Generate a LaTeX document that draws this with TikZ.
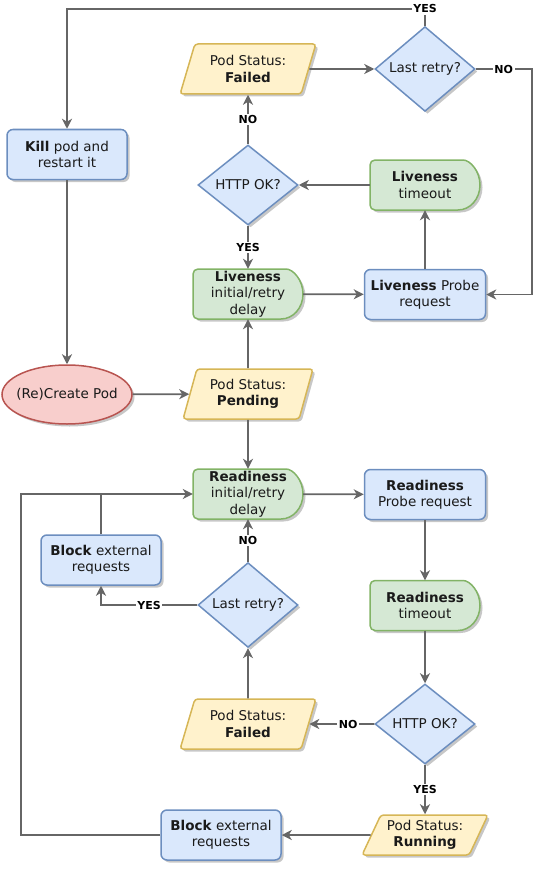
\documentclass[tikz,border=0pt]{standalone}
\usepackage{fontspec}
\setmainfont{DejaVu Sans}
\usetikzlibrary{shapes.geometric,arrows.meta,shadows,calc}
\definecolor{bfill}{HTML}{DAE8FC}
\definecolor{bstroke}{HTML}{6C8EBF}
\definecolor{gfill}{HTML}{D5E8D4}
\definecolor{gstroke}{HTML}{82B366}
\definecolor{yfill}{HTML}{FFF2CC}
\definecolor{ystroke}{HTML}{D6B656}
\definecolor{rfill}{HTML}{F8CECC}
\definecolor{rstroke}{HTML}{B85450}
\definecolor{ecol}{HTML}{666666}
\definecolor{txt}{HTML}{1A1A1A}
% delay shape: flat left side with rounded corners, half-round right side
\newcommand{\mydelay}[3]{%
  \path[delayshape] ($(#2)+(33,-25)$) arc[start angle=90, end angle=-90, x radius=22pt, y radius=25pt]
    [rounded corners=5pt] -- ($(#2)+(-55,25)$) -- ($(#2)+(-55,-25)$) -- cycle;
  \node[delaytext] (#1) at (#2) {#3};
}
\begin{document}
\begin{tikzpicture}[x=1pt,y=-1pt,
 shad/.style={drop shadow={shadow xshift=2.5pt,shadow yshift=-2.5pt,opacity=0.22,fill=black}},
 base/.style={font=\fontsize{13.5}{16.3}\selectfont, text=txt, align=center, line width=1.5pt, inner sep=2pt, shad},
 proc/.style={base, rectangle, rounded corners=6pt, draw=bstroke, fill=bfill, minimum width=120pt, minimum height=50pt},
 dec/.style={base, diamond, draw=bstroke, fill=bfill, minimum width=100pt, minimum height=80pt, inner sep=0pt},
 delayshape/.style={draw=gstroke, fill=gfill, line width=1.5pt, shad},
 delaytext/.style={font=\fontsize{13.5}{16.3}\selectfont, text=txt, align=center, rectangle, inner sep=1pt,
   minimum width=110pt, minimum height=50pt},
 status/.style={base, trapezium, trapezium left angle=72, trapezium right angle=108, trapezium stretches=true,
   draw=ystroke, fill=yfill, minimum width=130pt, minimum height=50pt, rounded corners=3pt},
 startnode/.style={base, ellipse, draw=rstroke, fill=rfill, minimum width=130pt, minimum height=59pt, inner xsep=-8pt},
 flow/.style={draw=ecol, line width=1.7pt, -{Stealth[length=10pt,width=10pt,inset=3pt]}},
 plain/.style={draw=ecol, line width=1.7pt},
 lbl/.style={fill=white, font=\fontsize{11}{13}\selectfont\bfseries, text=black, inner sep=1.5pt}
]
\useasboundingbox (0,0) rectangle (551,872);

% nodes
\node[proc] (kill) at (67,154.5) {\textbf{Kill} pod and\\restart it};
\node[startnode] (create) at (67,394.5) {(Re)Create Pod};
\node[status] (pending) at (248,394) {Pod Status:\\\textbf{Pending}};
\mydelay{ldelay}{248,294}{\textbf{Liveness}\\initial/retry\\delay}
\node[proc, minimum width=121pt] (lprobe) at (425,294.5) {\textbf{Liveness} Probe\\request};
\mydelay{ltimeout}{425,185}{\textbf{Liveness}\\timeout}
\node[dec] (lhttp) at (248,185) {HTTP OK?};
\node[status, minimum width=136pt, trapezium left angle=70, trapezium right angle=110] (lfailed) at (248,69) {Pod Status:\\\textbf{Failed}};
\node[dec] (lretry) at (425,69) {Last retry?};

\mydelay{rdelay}{248,494}{\textbf{Readiness}\\initial/retry\\delay}
\node[proc, minimum width=121pt] (rprobe) at (425,494.5) {\textbf{Readiness}\\Probe request};
\mydelay{rtimeout}{425,605.5}{\textbf{Readiness}\\timeout}
\node[dec] (rhttp) at (425,724) {HTTP OK?};
\node[status, minimum width=136pt, trapezium left angle=70, trapezium right angle=110] (rfailed) at (248,724) {Pod Status:\\\textbf{Failed}};
\node[dec] (rretry) at (248,605) {Last retry?};
\node[proc] (block1) at (101,560) {\textbf{Block} external\\requests};
\node[status, minimum width=126pt, minimum height=40pt, trapezium left angle=63, trapezium right angle=117] (running) at (425,835) {Pod Status:\\\textbf{Running}};
\node[proc] (block2) at (221,835) {\textbf{Block} external\\requests};

% connectors
\draw[flow] (create) -- (pending);
\draw[flow] (pending) -- (ldelay);
\draw[flow] (pending) -- (rdelay);
\draw[flow] (ldelay) -- (lprobe);
\draw[flow] (lprobe) -- (ltimeout);
\draw[flow] (ltimeout) -- (lhttp);
\draw[flow] (lhttp) -- node[lbl]{YES} (ldelay);
\draw[flow] (lhttp) -- node[lbl]{NO} (lfailed);
\draw[flow] (lfailed) -- (lretry);
\draw[flow] (lretry.east) -- node[lbl]{NO} ++(56,0) |- (lprobe.east);
\draw[flow] (lretry.north) -- ++(0,-17) node[lbl]{YES} -| (kill.north);
\draw[flow] (kill) -- (create);

\draw[flow] (rdelay) -- (rprobe);
\draw[flow] (rprobe) -- (rtimeout);
\draw[flow] (rtimeout) -- (rhttp);
\draw[flow] (rhttp) -- node[lbl, pos=0.4]{NO} (rfailed);
\draw[flow] (rhttp) -- node[lbl]{YES} (running);
\draw[flow] (running) -- (block2);
\draw[flow] (block2.west) -- ++(-139,0) |- (rdelay.west);
\draw[flow] (rfailed) -- (rretry);
\draw[flow] (rretry) -- node[lbl]{NO} (rdelay);
\draw[flow] (rretry.west) -| node[lbl, pos=0.25]{YES} (block1.south);
\draw[plain] (block1.north) -- (block1.north |- rdelay.west);
\end{tikzpicture}
\end{document}
